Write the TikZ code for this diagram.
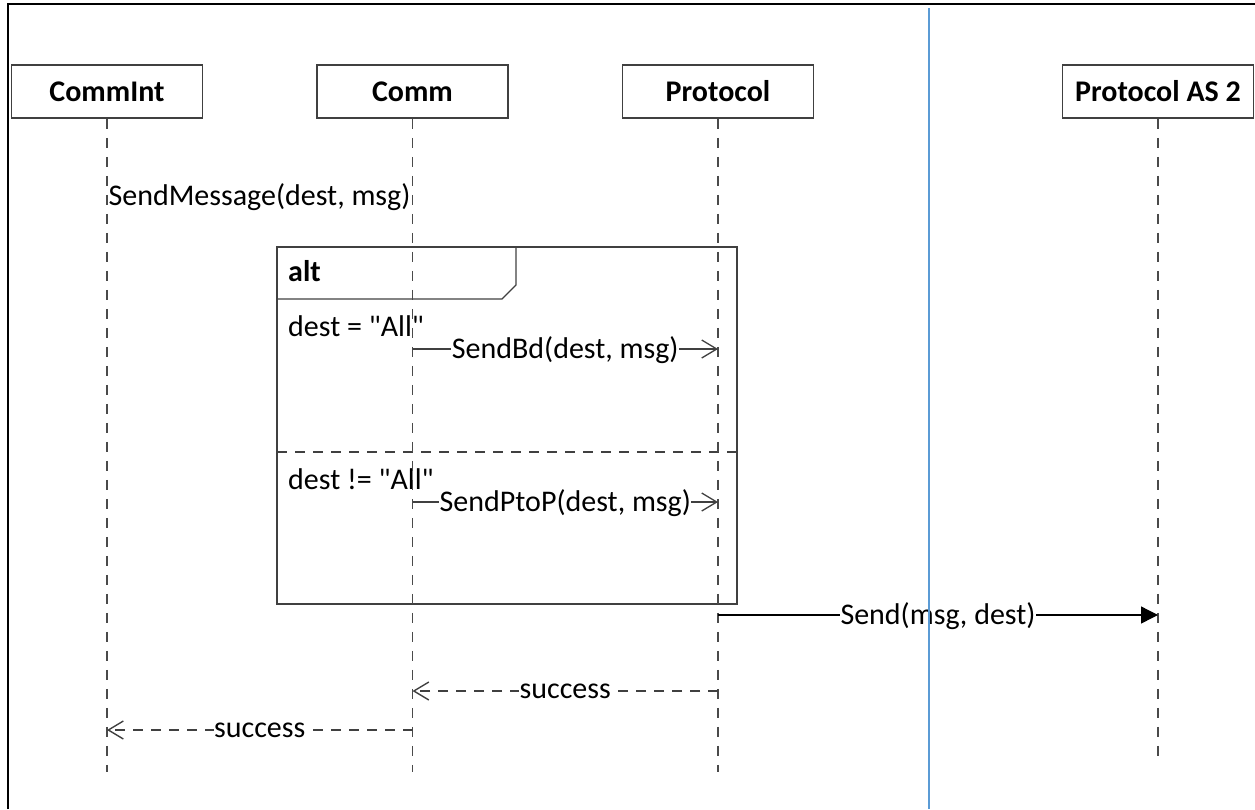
\documentclass[tikz,border=0pt]{standalone}
\usepackage{fontspec}
\setmainfont{Carlito}[Ligatures=TeXOff]
\usetikzlibrary{arrows.meta}
\definecolor{linegray}{HTML}{404040}
\definecolor{lifegray}{HTML}{4A4A4A}
\definecolor{sepblue}{HTML}{5B9BD5}
\begin{document}
\begin{tikzpicture}[x=1pt,y=-1pt,
  txt/.style={font=\fontsize{30}{36}\selectfont, text=black},
  lifebox/.style={draw=linegray, line width=1.5pt, fill=white, minimum width=191pt, minimum height=53pt, inner sep=0pt, font=\bfseries\fontsize{30}{36}\selectfont},
  lifeline/.style={draw=lifegray, line width=1.7pt, dash pattern=on 10pt off 9pt},
  framestyle/.style={draw=linegray, line width=1.3pt},
  sepline/.style={draw=linegray, line width=1.3pt, dash pattern=on 10pt off 8pt},
  callmsg/.style={draw=linegray, line width=1.3pt, -{Straight Barb[length=15pt,width=18pt]}},
  syncmsg/.style={draw=black, line width=1.3pt, -{Triangle[length=17pt,width=17pt]}},
  retmsg/.style={draw=linegray, line width=1.4pt, dash pattern=on 10pt off 8pt, -{Straight Barb[length=15pt,width=18pt]}},
  lbl/.style={txt, fill=white, inner sep=0.5pt, text height=20pt, text depth=1pt},
  border/.style={draw=black, line width=2.5pt}
]
\useasboundingbox (0,0) rectangle (1255,809);

% outer frame (only top and left visible)
\draw[border] (8,809) -- (8,4) -- (1255,4);

% alt combined fragment
\draw[framestyle] (277,247) rectangle (737,604);
\draw[framestyle] (277,299) -- (502,299) -- (516,285) -- (516,247);
\draw[sepline] (277,452) -- (737,452);
\node[txt, font=\bfseries\fontsize{30}{36}\selectfont, anchor=base west, inner sep=0pt] (altlbl) at (288,281) {alt};
\node[txt, anchor=base west, inner sep=0pt] (cond1) at (288,336) {dest = "All"};
\node[txt, anchor=base west, inner sep=0pt] (cond2) at (288,489) {dest != "All"};

% lifeline heads
\node[lifebox] (b1) at (107,91.5) {CommInt};
\node[lifebox] (b2) at (412.5,91.5) {Comm};
\node[lifebox] (b3) at (718,91.5) {Protocol};
\node[lifebox] (b4) at (1158,91.5) {Protocol AS 2};

% lifelines
\coordinate (e1) at (107,772);
\coordinate (e2) at (412.5,772);
\coordinate (e3) at (718,772);
\coordinate (e4) at (1158,760);
\draw[lifeline] (b1.south) -- (e1);
\draw[lifeline] (b2.south) -- (e2);
\draw[lifeline] (b3.south) -- (e3);
\draw[lifeline] (b4.south) -- (e4);

% SendMessage label
\node[txt, anchor=base, inner sep=0pt] (sendmsg) at (259.5,205) {SendMessage(dest, msg)};

% message anchors
\coordinate (m1a) at (412.5,349);
\coordinate (m1b) at (718,349);
\coordinate (m2a) at (412.5,502);
\coordinate (m2b) at (718,502);
\coordinate (m3a) at (718,615);
\coordinate (m3b) at (1158,615);
\coordinate (m4a) at (718,691);
\coordinate (m4b) at (412.5,691);
\coordinate (m5a) at (412.5,730);
\coordinate (m5b) at (107,730);

\draw[callmsg] (m1a) -- node[lbl] (l1) {SendBd(dest, msg)} (m1b);
\draw[callmsg] (m2a) -- node[lbl] (l2) {SendPtoP(dest, msg)} (m2b);
\draw[syncmsg] (m3a) -- node[lbl] (l3) {Send(msg, dest)} (m3b);
\draw[retmsg] (m4a) -- node[lbl, text height=17pt, text depth=2pt] (l4) {success} (m4b);
\draw[retmsg] (m5a) -- node[lbl, text height=17pt, text depth=2pt] (l5) {success} (m5b);

% blue separator
\coordinate (bl1) at (929,8);
\coordinate (bl2) at (929,809);
\draw[sepblue, line width=2pt] (bl1) -- (bl2);
\end{tikzpicture}
\end{document}
